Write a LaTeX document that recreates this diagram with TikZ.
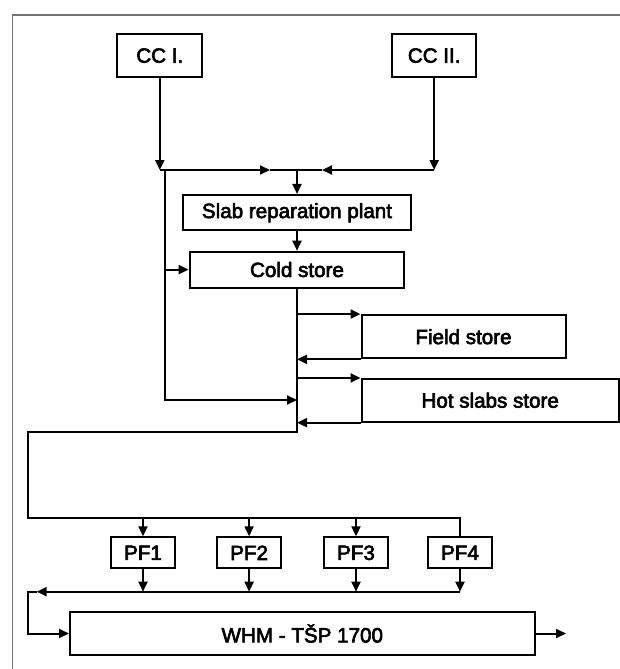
\documentclass[tikz,border=0pt]{standalone}
\usepackage{fontspec}
\setmainfont{Liberation Sans}
\newfontfamily\boxfont{Liberation Sans}[FakeBold=3]
\usetikzlibrary{arrows.meta}
\begin{document}
\begin{tikzpicture}[x=1pt,y=-1pt,
  box/.style={draw, line width=2pt, inner sep=0pt, font=\boxfont\fontsize{20.6}{24}\selectfont},
  link/.style={line width=2pt},
  arr/.style={link, -{Triangle[length=10pt,width=9pt]}},
  frameline/.style={line width=1.2pt, draw=black!55}]
\useasboundingbox (0,0) rectangle (620,669);
\draw[frameline] (12.5,669) -- (12.5,15) -- (620,15);

% boxes
\node[box, minimum width=84.7pt, minimum height=43.3pt] (cc1) at (159.8,55.6) {CC I.};
\node[box, minimum width=84.5pt, minimum height=43.3pt] (cc2) at (434.2,55.6) {CC II.};
\node[box, minimum width=227.7pt, minimum height=35.5pt] (slab) at (297,212.7) {Slab reparation plant};
\node[box, minimum width=214.8pt, minimum height=35.8pt] (cold) at (297,269.6) {Cold store};
\node[box, minimum width=204pt, minimum height=43.3pt] (field) at (463.5,336.7) {Field store};
\node[box, minimum width=257.3pt, minimum height=42.7pt] (hot) at (490.2,400.3) {Hot slabs store};
\node[box, minimum width=64.5pt, minimum height=31pt] (pf1) at (143,552.8) {PF1};
\node[box, minimum width=64.5pt, minimum height=31pt] (pf2) at (249.1,552.8) {PF2};
\node[box, minimum width=64.5pt, minimum height=31pt] (pf3) at (356,552.8) {PF3};
\node[box, minimum width=64.5pt, minimum height=31pt] (pf4) at (460,552.8) {PF4};
\node[box, minimum width=464.6pt, minimum height=43.4pt] (whm) at (302.3,633.5) {WHM - TŠP 1700};

% junction coordinates
\coordinate (jL) at (159.8,170);
\coordinate (jL2) at (165,170);
\coordinate (mA) at (270,170);
\coordinate (jC) at (297,170);
\coordinate (mB) at (322,170);
\coordinate (jR) at (434.2,170);
\coordinate (sL) at (297,400);
\coordinate (sE) at (297,431.7);
\coordinate (cE) at (27.7,431.7);
\coordinate (cT) at (27.7,517.7);
\coordinate (t4) at (460,517.7);
\coordinate (cB) at (27.7,591.7);
\coordinate (mC) at (36.7,591.7);
\coordinate (out) at (566,633.5);

% connectors
\draw[arr] (cc1.south) -- (jL);
\draw[arr] (cc2.south) -- (jR);
\draw[arr] (jL) -- (mA);
\draw[link] (mA) -- (jC);
\draw[arr] (jR) -- (mB);
\draw[link] (mB) -- (jC);
\draw[arr] (jC) -- (slab.north);
\draw[arr] (slab.south) -- (cold.north);
\draw[arr] (jL2) |- (sL);
\draw[arr] (cold.west -| jL2) -- (cold.west);
\draw[link] (cold.south) -- (sE) -- (cE) -- (cT) -- (t4) -- (pf4.north);
\draw[arr] (field.north west -| jC) -- (field.north west);
\draw[arr] (field.south west) -- (field.south west -| jC);
\draw[arr] (hot.north west -| jC) -- (hot.north west);
\draw[arr] (hot.south west) -- (hot.south west -| jC);
\foreach \i in {1,2,3} {\draw[arr] (pf\i.north |- cT) -- (pf\i.north);}
\foreach \i in {1,2,3,4} {\draw[arr] (pf\i.south) -- (pf\i.south |- cB);}
\draw[arr] (pf4.south |- cB) -- (mC);
\draw[arr] (mC) -- (cB) |- (whm.west);
\draw[arr] (whm.east) -- (out);
\end{tikzpicture}
\end{document}
